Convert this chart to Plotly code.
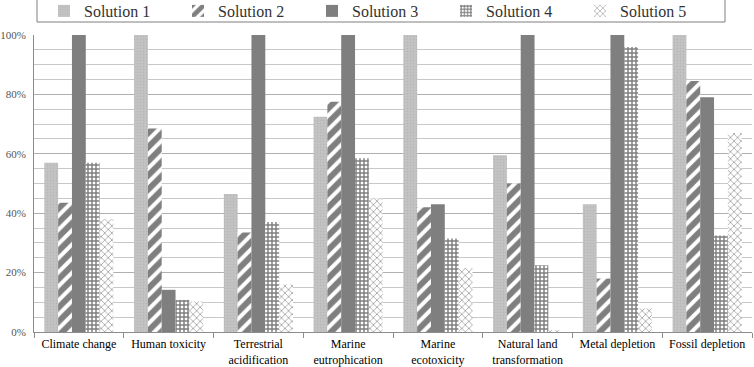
import plotly.graph_objects as go

categories = ["Climate change", "Human toxicity", "Terrestrial<br>acidification",
              "Marine<br>eutrophication", "Marine<br>ecotoxicity",
              "Natural land<br>transformation", "Metal depletion", "Fossil depletion"]
solution_1 = [57, 100, 46.5, 72.5, 100, 59.5, 43, 100]
solution_2 = [43.5, 68.5, 33.5, 77.5, 42, 50, 18, 84.5]
solution_3 = [100, 14.2, 100, 100, 43, 100, 100, 79]
solution_4 = [57, 10.8, 37, 58.5, 31.5, 22.5, 96, 32.5]
solution_5 = [38, 10.3, 16, 45, 21.5, 0.6, 8, 67]
names = ["Solution 1", "Solution 2", "Solution 3", "Solution 4", "Solution 5"]
series = [solution_1, solution_2, solution_3, solution_4, solution_5]

styles = [
    dict(color="#c4c4c4", pattern=dict(shape=".", fgcolor="#aaaaaa", bgcolor="#c4c4c4", size=3, solidity=0.3)),
    dict(color="white", pattern=dict(shape="/", fgcolor="black", bgcolor="white", size=10, solidity=0.6)),
    dict(color="#7f7f7f"),
    dict(color="white", pattern=dict(shape="+", fgcolor="black", bgcolor="white", size=4, solidity=0.6)),
    dict(color="white", pattern=dict(shape="x", fgcolor="#444444", bgcolor="white", size=5, solidity=0.3)),
]

fig = go.Figure()
for name, vals, st in zip(names, series, styles):
    fig.add_trace(go.Bar(x=categories, y=[v / 100 for v in vals], name=name,
                         marker=dict(line=dict(width=0), **st)))

W, H = 754, 367
PL, PR, PT, PB = 34, 752, 35, 332
pw, ph = PR - PL, PB - PT
def px_x(p): return (p - PL) / pw
def px_y(p): return (PB - p) / ph

fig.add_shape(type="rect", xref="paper", yref="paper",
              x0=px_x(37), x1=px_x(725), y0=px_y(22), y1=px_y(-3),
              line=dict(color="#7f7f7f", width=1), fillcolor="rgba(0,0,0,0)", layer="below")

fig.update_layout(
    width=W, height=H,
    margin=dict(l=PL, r=W - PR, t=PT, b=H - PB),
    paper_bgcolor="white", plot_bgcolor="white",
    barmode="group", bargap=0.23, bargroupgap=0,
    font=dict(family="Liberation Serif", size=12, color="black"),
    showlegend=True,
    legend=dict(orientation="h", xref="container", yref="container",
                x=44 / W, xanchor="left", y=1 - 11 / H, yanchor="middle",
                entrywidth=89, entrywidthmode="pixels",
                borderwidth=0, bgcolor="rgba(0,0,0,0)",
                font=dict(family="Liberation Serif", size=16, color="#333333"),
                itemsizing="constant"),
)
fig.update_yaxes(range=[0, 1], tickformat=".0%", dtick=0.2, automargin=False,
                 showgrid=True, gridcolor="#b0b0b0", gridwidth=1,
                 minor=dict(dtick=0.05, showgrid=True, gridcolor="#c8c8c8", gridwidth=1),
                 showline=True, linecolor="#8c8c8c", linewidth=1,
                 tickfont=dict(family="Liberation Serif", size=11, color="#555555"),
                 ticks="", ticklabelstandoff=5, zeroline=False)
fig.update_xaxes(showline=True, linecolor="#8c8c8c", linewidth=1, tickangle=0, automargin=False,
                 ticks="outside", tickson="boundaries", ticklen=5, tickcolor="#8c8c8c",
                 ticklabelstandoff=1,
                 tickfont=dict(family="Liberation Serif", size=12, color="black"), showgrid=False)

fig.write_html("out.html")
